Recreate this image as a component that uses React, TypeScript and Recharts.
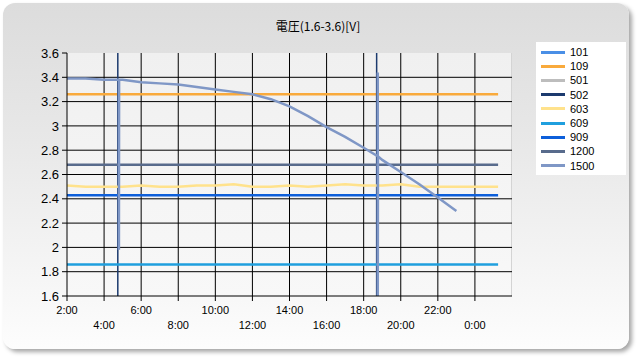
import React from 'react';
import { LineChart, Line, XAxis, YAxis, CartesianGrid } from 'recharts';

// sample times in hours (25 = 1:00 next day)
const HOURS = [2, 3, 4, 5, 6, 7, 8, 9, 10, 11, 12, 13, 14, 15, 16, 17, 18, 19, 20, 21, 22, 23, 24, 25, 25.25];

const V109 = [3.26, 3.26, 3.26, 3.26, 3.26, 3.26, 3.26, 3.26, 3.26, 3.26, 3.26, 3.26, 3.26, 3.26, 3.26, 3.26, 3.26, 3.26, 3.26, 3.26, 3.26, 3.26, 3.26, 3.26, 3.26];
const V603 = [2.51, 2.50, 2.50, 2.50, 2.51, 2.50, 2.50, 2.51, 2.51, 2.52, 2.50, 2.50, 2.51, 2.50, 2.51, 2.52, 2.51, 2.51, 2.52, 2.50, 2.50, 2.50, 2.50, 2.50, 2.50];
const V609 = [1.86, 1.86, 1.86, 1.86, 1.86, 1.86, 1.86, 1.86, 1.86, 1.86, 1.86, 1.86, 1.86, 1.86, 1.86, 1.86, 1.86, 1.86, 1.86, 1.86, 1.86, 1.86, 1.86, 1.86, 1.86];
const V909 = [2.43, 2.43, 2.43, 2.43, 2.43, 2.43, 2.43, 2.43, 2.43, 2.43, 2.43, 2.43, 2.43, 2.43, 2.43, 2.43, 2.43, 2.43, 2.43, 2.43, 2.43, 2.43, 2.43, 2.43, 2.43];
const V1200 = [2.68, 2.68, 2.68, 2.68, 2.68, 2.68, 2.68, 2.68, 2.68, 2.68, 2.68, 2.68, 2.68, 2.68, 2.68, 2.68, 2.68, 2.68, 2.68, 2.68, 2.68, 2.68, 2.68, 2.68, 2.68];

// 1500 has its own times (with spikes at ~4:48 and ~18:45)
const T1500 = [2, 3, 4, 4.8, 4.8, 4.81, 5, 6, 7, 8, 9, 10, 11, 12, 13, 14, 15, 16, 17, 18, 18.76, 18.76, 18.76, 18.77, 19, 20, 21, 22, 23];
const V1500 = [3.39, 3.39, 3.38, 3.38, 1.98, 3.38, 3.38, 3.36, 3.35, 3.34, 3.32, 3.30, 3.28, 3.26, 3.22, 3.16, 3.08, 2.99, 2.91, 2.82, 2.75, 3.44, 1.5, 2.75, 2.72, 2.62, 2.52, 2.41, 2.30];

// 502 sits outside the axis range, only its jumps are visible
const T502 = [2, 4.74, 4.74, 18.7, 18.7, 25.25];
const V502 = [0, 0, 5, 5, 0, 0];

const T_OFF = [2, 25.25];
const V101 = [0, 0];
const V501 = [0, 0];

const X_TICKS = [2, 4, 6, 8, 10, 12, 14, 16, 18, 20, 22, 24];
const Y_TICKS = [1.6, 1.8, 2, 2.2, 2.4, 2.6, 2.8, 3, 3.2, 3.4, 3.6];

const toData = (t: number[], v: number[]) => t.map((x, i) => ({ t: x, v: v[i] }));

const SERIES = [
  { name: '101', color: '#4a8fe6', w: 2.5, data: toData(T_OFF, V101) },
  { name: '109', color: '#f9aa3c', w: 2.5, data: toData(HOURS, V109) },
  { name: '501', color: '#bdbdbd', w: 2.5, data: toData(T_OFF, V501) },
  { name: '502', color: '#1c3a6e', w: 1.5, data: toData(T502, V502) },
  { name: '603', color: '#ffe28c', w: 2.5, data: toData(HOURS, V603) },
  { name: '609', color: '#1f9fde', w: 2.5, data: toData(HOURS, V609) },
  { name: '909', color: '#0d5fda', w: 2.5, data: toData(HOURS, V909) },
  { name: '1200', color: '#586b8c', w: 2.5, data: toData(HOURS, V1200) },
  { name: '1500', color: '#7f97c6', w: 2.5, data: toData(T1500, V1500) },
];

const fmtHour = (h: number) => `${h % 24}:00`;

const XTick = (props: any) => {
  const { x, payload, index } = props;
  return (
    <text x={x} y={index % 2 === 0 ? 314 : 329} textAnchor="middle" fontSize={11} fill="#000"
      fontFamily="'Liberation Sans', Arial, sans-serif">
      {fmtHour(payload.value)}
    </text>
  );
};

export default function App() {
  return (
    <div style={{ position: 'absolute', left: 0, top: 0, width: 640, height: 360, background: '#fff', overflow: 'hidden' }}>
      <div style={{
        position: 'absolute', left: 3, top: 3, width: 626, height: 346, borderRadius: 12,
        background: 'linear-gradient(#dcdcdc, #e8e8e8 40%, #fdfdfd)',
        boxShadow: '3px 3px 4px rgba(0,0,0,0.35)',
      }} />
      <div style={{
        position: 'absolute', left: 67, top: 53, width: 445, height: 243,
        background: 'linear-gradient(#f0f0f0, #f8f8f8)', borderRight: '1px solid #d4d4d4', boxSizing: 'border-box',
      }} />
      <div style={{
        position: 'absolute', left: 0, top: 17, width: 636, textAlign: 'center', fontSize: 12, color: '#000',
        fontFamily: "'Noto Sans CJK JP', 'Liberation Sans', sans-serif",
      }}>
        電圧(1.6-3.6)[V]
      </div>
      <div style={{
        position: 'absolute', left: 536, top: 42, width: 90, height: 133, background: '#fff',
        fontFamily: "'Liberation Sans', Arial, sans-serif", fontSize: 11, color: '#000', paddingTop: 3, boxSizing: 'border-box',
      }}>
        {SERIES.map((s) => (
          <div key={s.name} style={{ display: 'flex', alignItems: 'center', height: 14.2 }}>
            <div style={{ width: 24, height: 3, background: s.color, marginLeft: 5, marginRight: 5 }} />
            <span>{s.name}</span>
          </div>
        ))}
      </div>
      <div style={{ position: 'absolute', left: 0, top: 0 }}>
        <LineChart width={640} height={360} margin={{ top: 53, right: 128, bottom: 0, left: 7 }}>
          <CartesianGrid stroke="#000" strokeWidth={1}
            horizontalValues={[1.8, 2, 2.2, 2.4, 2.6, 2.8, 3, 3.2, 3.4]}
            verticalValues={[4, 6, 8, 10, 12, 14, 16, 18, 20, 22, 24]} />
          <XAxis dataKey="t" type="number" domain={[2, 26]} ticks={X_TICKS} interval={0}
            allowDataOverflow height={64} stroke="#000" tickSize={5} tick={<XTick />} />
          <YAxis type="number" domain={[1.6, 3.6]} ticks={Y_TICKS} allowDataOverflow width={60}
            stroke="#000" tickSize={5} tickMargin={3}
            tick={{ fill: '#000', fontSize: 13, fontFamily: "'Liberation Sans', Arial, sans-serif" }}
            tickFormatter={(v: number) => `${Math.round(v * 10) / 10}`} />
          {SERIES.map((s) => (
            <Line key={s.name} data={s.data} dataKey="v" type="linear" stroke={s.color}
              strokeWidth={s.w} dot={false} isAnimationActive={false} />
          ))}
        </LineChart>
      </div>
    </div>
  );
}
